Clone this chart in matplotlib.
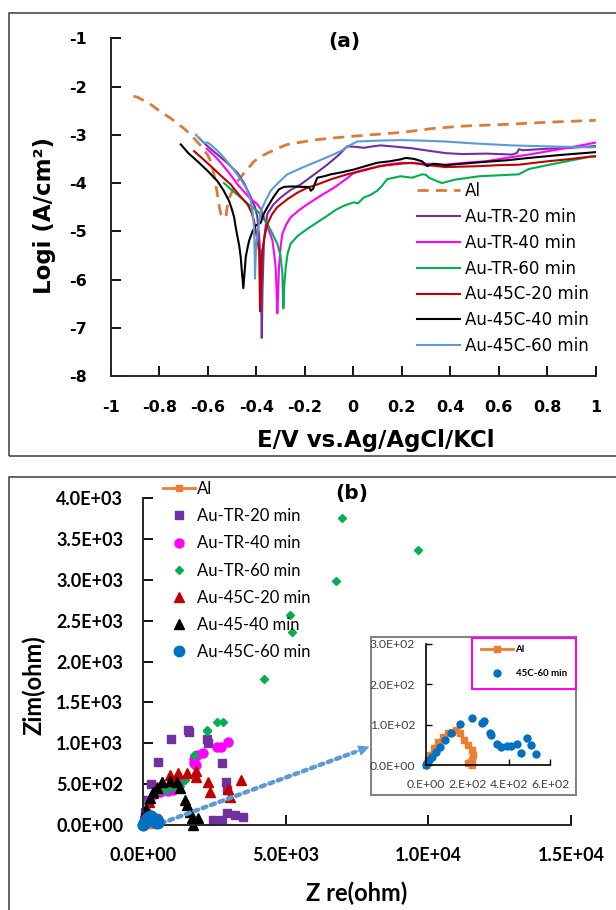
import matplotlib
matplotlib.use("Agg")
import matplotlib.pyplot as plt
from matplotlib.patches import Rectangle

plt.rcParams['font.family'] = ['Lato', 'DejaVu Sans']

W, H = 616, 910

# ---------------- (a) polarisation curves: E (V) vs log i ----------------
al_e = [-0.906, -0.89, -0.875, -0.841, -0.80, -0.752, -0.70, -0.669, -0.63, -0.60, -0.587,
        -0.575, -0.56, -0.552, -0.546, -0.535, -0.525, -0.52, -0.51, -0.498, -0.475, -0.45,
        -0.43, -0.409, -0.38, -0.354, -0.31, -0.272, -0.2, -0.148, -0.07, 0.0, 0.1, 0.2,
        0.327, 0.45, 0.55, 0.65, 0.8, 0.9, 1.0]
al_logi = [-2.20, -2.22, -2.26, -2.35, -2.50, -2.66, -2.86, -3.0, -3.22, -3.42, -3.55,
           -3.8, -4.23, -4.5, -4.64, -4.72, -4.71, -4.5, -4.3, -4.16, -3.95, -3.79,
           -3.68, -3.55, -3.45, -3.38, -3.28, -3.2, -3.14, -3.1, -3.06, -3.03, -2.99, -2.95,
           -2.87, -2.82, -2.80, -2.78, -2.74, -2.72, -2.70]

tr20_e = [-0.635, -0.60, -0.56, -0.52, -0.477, -0.45, -0.422, -0.405, -0.395, -0.388, -0.381,
          -0.379, -0.377, -0.374, -0.368, -0.36, -0.354, -0.33, -0.299, -0.26, -0.217, -0.16,
          -0.107, -0.06, -0.025, 0.01, 0.044, 0.08, 0.112, 0.16, 0.243, 0.31, 0.381, 0.45,
          0.55, 0.654, 0.675, 0.683, 0.70, 0.8, 0.9, 0.983, 1.0]
tr20_logi = [-3.07, -3.24, -3.41, -3.58, -3.79, -4.0, -4.3, -4.5, -4.71, -5.1, -5.74,
             -6.5, -7.21, -6.2, -5.19, -4.85, -4.64, -4.45, -4.3, -4.15, -4.03, -3.82,
             -3.62, -3.42, -3.24, -3.25, -3.27, -3.24, -3.22, -3.24, -3.28, -3.33, -3.38, -3.40,
             -3.39, -3.41, -3.38, -3.30, -3.32, -3.29, -3.27, -3.24, -3.23]

tr40_e = [-0.604, -0.575, -0.546, -0.51, -0.477, -0.45, -0.429, -0.395, -0.38, -0.368, -0.35,
          -0.333, -0.325, -0.32, -0.316, -0.313, -0.309, -0.306, -0.299, -0.292, -0.275, -0.258,
          -0.22, -0.189, -0.13, -0.08, -0.03, 0.003, 0.04, 0.085, 0.14, 0.195, 0.3, 0.381,
          0.46, 0.546, 0.63, 0.724, 0.85, 0.95, 1.0]
tr40_logi = [-3.29, -3.42, -3.58, -3.8, -4.03, -4.18, -4.3, -4.44, -4.55, -4.71, -4.95,
             -5.19, -5.5, -5.74, -6.2, -6.7, -6.2, -5.74, -5.3, -5.05, -4.85, -4.71,
             -4.55, -4.44, -4.25, -4.1, -3.92, -3.79, -3.73, -3.68, -3.62, -3.58, -3.6, -3.62,
             -3.58, -3.55, -3.48, -3.41, -3.3, -3.21, -3.16]

tr60_e = [-0.533, -0.50, -0.464, -0.43, -0.395, -0.375, -0.354, -0.333, -0.313, -0.30, -0.292,
          -0.288, -0.284, -0.278, -0.27, -0.258, -0.23, -0.189, -0.15, -0.107, -0.07, -0.038,
          0.003, 0.02, 0.044, 0.07, 0.099, 0.12, 0.14, 0.195, 0.243, 0.284, 0.30, 0.313,
          0.34, 0.366, 0.42, 0.519, 0.6, 0.683, 0.724, 0.8, 0.9, 0.983, 1.0]
tr60_logi = [-4.0, -4.15, -4.3, -4.45, -4.58, -4.7, -4.85, -5.05, -5.26, -5.5, -5.88,
             -6.6, -6.1, -5.74, -5.45, -5.26, -5.1, -4.95, -4.82, -4.68, -4.55, -4.47,
             -4.40, -4.42, -4.3, -4.25, -4.16, -4.05, -3.92, -3.86, -3.89, -3.82, -3.83, -3.89,
             -3.95, -4.0, -3.93, -3.86, -3.84, -3.82, -3.71, -3.63, -3.53, -3.45, -3.44]

c20_e = [-0.656, -0.62, -0.587, -0.545, -0.505, -0.47, -0.436, -0.42, -0.409, -0.398, -0.388,
         -0.386, -0.384, -0.38, -0.375, -0.365, -0.354, -0.335, -0.313, -0.27, -0.23, -0.19,
         -0.148, -0.09, -0.025, 0.058, 0.107, 0.195, 0.243, 0.31, 0.381, 0.45, 0.519, 0.6,
         0.683, 0.8, 0.9, 0.983, 1.0]
c20_logi = [-3.34, -3.5, -3.65, -3.85, -4.03, -4.25, -4.44, -4.6, -4.78, -5.1, -5.4,
            -6.0, -6.66, -6.0, -5.4, -5.1, -4.85, -4.65, -4.5, -4.33, -4.2, -4.1,
            -4.03, -3.92, -3.82, -3.72, -3.65, -3.6, -3.58, -3.63, -3.67, -3.66, -3.65, -3.63,
            -3.62, -3.55, -3.5, -3.45, -3.45]

c40_e = [-0.711, -0.68, -0.642, -0.60, -0.56, -0.535, -0.512, -0.50, -0.491, -0.485, -0.477,
         -0.47, -0.464, -0.458, -0.453, -0.448, -0.443, -0.436, -0.429, -0.415, -0.402, -0.39,
         -0.381, -0.37, -0.354, -0.33, -0.306, -0.285, -0.25, -0.21, -0.182, -0.175, -0.165,
         -0.162, -0.148, -0.12, -0.093, -0.05, 0.003, 0.05, 0.099, 0.15, 0.195, 0.217, 0.25,
         0.284, 0.305, 0.33, 0.381, 0.45, 0.546, 0.63, 0.724, 0.85, 0.95, 1.0]
c40_logi = [-3.2, -3.38, -3.55, -3.75, -3.96, -4.15, -4.37, -4.55, -4.71, -4.9, -5.12,
            -5.3, -5.53, -5.9, -6.18, -5.85, -5.53, -5.35, -5.19, -5.0, -4.88, -4.85,
            -4.82, -4.65, -4.5, -4.3, -4.13, -4.08, -4.07, -4.08, -4.08, -4.16, -4.12,
            -4.06, -3.89, -3.86, -3.82, -3.78, -3.72, -3.65, -3.58, -3.55, -3.51, -3.48, -3.5,
            -3.55, -3.65, -3.6, -3.63, -3.6, -3.56, -3.53, -3.48, -3.42, -3.38, -3.36]

c60_e = [-0.649, -0.63, -0.615, -0.6, -0.587, -0.56, -0.532, -0.50, -0.464, -0.44, -0.422,
         -0.415, -0.409, -0.406, -0.405, -0.402, -0.398, -0.39, -0.381, -0.36, -0.34, -0.31,
         -0.272, -0.21, -0.148, -0.1, -0.052, -0.015, 0.016, 0.107, 0.195, 0.28, 0.381, 0.5,
         0.654, 0.8, 0.983, 1.0]
c60_logi = [-3.0, -3.1, -3.17, -3.16, -3.21, -3.33, -3.48, -3.68, -3.92, -4.12, -4.37,
            -4.6, -4.92, -5.5, -5.98, -5.5, -5.19, -4.85, -4.58, -4.35, -4.16, -4.0,
            -3.82, -3.68, -3.55, -3.45, -3.34, -3.22, -3.14, -3.12, -3.11, -3.12, -3.14, -3.18,
            -3.22, -3.24, -3.26, -3.25]

labels_a = ["Al", "Au-TR-20 min", "Au-TR-40 min", "Au-TR-60 min",
            "Au-45C-20 min", "Au-45C-40 min", "Au-45C-60 min"]
colors_a = ["#DB7A3C", "#7030A0", "#FF00FF", "#00B050", "#C00000", "#000000", "#5B9BD5"]

# ---------------- (b) Nyquist: Z re vs Zim (ohm) ----------------
al_zre = [0, 9.6, 19, 38, 57.5, 82, 105, 125, 144, 163, 182, 201, 220, 226, 220, 201, 220]
al_zim = [0, 12.4, 25, 41, 58, 70, 78.5, 83, 87, 78.5, 62, 50, 37, 25, 12.4, 4, 0]

tr20_zre = [28, 55, 125, 260, 510, 955, 1578, 1619, 2220, 2260, 2760, 2910, 2930,
            2460, 2760, 2934, 3210, 3490]
tr20_zim = [32, 154, 300, 505, 770, 1059, 1160, 1140, 1047, 1000, 760, 530, 430,
            65, 61, 142, 120, 95]

tr40_zre = [28, 97, 208, 374, 581, 858, 1050, 1230, 1273, 1785, 1785, 1848, 1873,
            2094, 2574, 2727, 2976]
tr40_zim = [32, 154, 296, 377, 398, 418, 430, 550, 540, 763, 803, 734, 857,
            881, 958, 957, 1014]

tr60_zre = [55, 166, 374, 581, 840, 1100, 1300, 1450, 1785, 2242, 2250, 2588, 2796,
            4249, 5148, 5218, 6754, 6975, 9619]
tr60_zim = [114, 276, 377, 420, 430, 470, 480, 545, 856, 1168, 1150, 1262, 1262,
            1789, 2568, 2365, 2982, 3753, 3371]

c20_zre = [69, 95, 210, 351, 470, 645, 936, 1227, 1522, 1848, 1848, 2280, 2339,
           2981, 3041, 3416]
c20_zim = [154, 184, 285, 388, 469, 530, 612, 640, 640, 665, 591, 530, 408,
           437, 339, 551]

c40_zre = [28, 97, 235, 351, 470, 645, 936, 1171, 1287, 1462, 1522, 1638, 1697,
           1929, 1754]
c40_zim = [53, 195, 327, 408, 449, 525, 535, 525, 449, 306, 245, 163, 82,
           82, 0]

c60_zre = [0, 5.8, 13.4, 28.8, 47.9, 67.1, 90.1, 120.8, 163, 220.4, 270, 278, 312.5,
           306.7, 345, 364, 393, 412, 441, 460, 489, 508, 531]
c60_zim = [0, 5.8, 12.4, 20.7, 33.1, 45.5, 62, 78.5, 101.7, 115.7, 105, 110, 74.4,
           78.5, 52, 45.5, 47, 47, 52, 29, 68, 49.6, 26.4]

labels_b = ["Al", "Au-TR-20 min", "Au-TR-40 min", "Au-TR-60 min",
            "Au-45C-20 min", "Au-45-40 min", "Au-45C-60 min"]
colors_b = ["#ED7D31", "#7030A0", "#FF00FF", "#00B050", "#C00000", "#000000", "#0070C0"]
xticks_b = [0, 5000, 10000, 15000]
xlabels_b = ["0.0E+00", "5.0E+03", "1.0E+04", "1.5E+04"]
yticks_b = [0, 500, 1000, 1500, 2000, 2500, 3000, 3500, 4000]
ylabels_b = ["0.0E+00", "5.0E+02", "1.0E+03", "1.5E+03", "2.0E+03",
             "2.5E+03", "3.0E+03", "3.5E+03", "4.0E+03"]

fig = plt.figure(figsize=(W / 100, H / 100), dpi=100)


def box(x0, y0, x1, y1):
    # pixel rectangle measured from the top-left corner -> figure fractions
    return [x0 / W, 1 - y1 / H, (x1 - x0) / W, (y1 - y0) / H]


def fxy(x, y):
    return x / W, 1 - y / H


DJ = "DejaVu Sans"

# panel frames
fig.add_artist(Rectangle(fxy(8.6, 456), 1.2, (456 - 12.7) / H, transform=fig.transFigure,
                         fill=False, ec="#3a3a3a", lw=1.1))
fig.add_artist(Rectangle(fxy(8.6, 925), 1.2, (925 - 476.7) / H, transform=fig.transFigure,
                         fill=False, ec="#3a3a3a", lw=1.1))

# ---------- panel (a) ----------
ax1 = fig.add_axes(box(110.7, 38.3, 595.7, 376))
series_a = [(al_e, al_logi), (tr20_e, tr20_logi), (tr40_e, tr40_logi), (tr60_e, tr60_logi),
            (c20_e, c20_logi), (c40_e, c40_logi), (c60_e, c60_logi)]
for i, (e, lg) in enumerate(series_a):
    if i == 0:
        ax1.plot(e, lg, color=colors_a[i], lw=2, linestyle=(0, (4, 2.6)), label=labels_a[i])
    else:
        ax1.plot(e, lg, color=colors_a[i], lw=1.5, label=labels_a[i])

ax1.set_xlim(-1, 1)
ax1.set_ylim(-8, -1)
xt = [-1, -0.8, -0.6, -0.4, -0.2, 0, 0.2, 0.4, 0.6, 0.8, 1]
ax1.set_xticks(xt, labels=["-1", "-0.8", "-0.6", "-0.4", "-0.2", "0", "0.2", "0.4",
                           "0.6", "0.8", "1"], fontweight="bold", fontsize=11.5, family=DJ)
yt = [-8, -7, -6, -5, -4, -3, -2, -1]
ax1.set_yticks(yt, labels=[str(v) for v in yt], fontweight="bold", fontsize=11.5, family=DJ)
for s in ["top", "right"]:
    ax1.spines[s].set_visible(False)
for s in ["left", "bottom"]:
    ax1.spines[s].set_linewidth(1.4)
    ax1.spines[s].set_color("#262626")
ax1.tick_params(axis="y", direction="in", length=7, width=1.3, pad=17)
ax1.tick_params(axis="x", direction="in", length=7, width=1.3, pad=17)
ax1.legend(loc="upper left", bbox_to_anchor=fxy(416.7, 182), bbox_transform=fig.transFigure,
           frameon=False, borderpad=0, borderaxespad=0, handlelength=2.6,
           handletextpad=0.3, labelspacing=0.47, prop={"family": DJ, "size": 12})

fig.text(*fxy(344, 42), "(a)", fontsize=14.5, fontweight="bold", family=DJ,
         ha="center", va="center")
fig.text(*fxy(376, 440), "E/V vs.Ag/AgCl/KCl", fontsize=16.5, fontweight="bold", family=DJ,
         ha="center", va="center")
fig.text(*fxy(45, 215), "Logi (A/cm²)", fontsize=16.5, fontweight="bold", family=DJ,
         ha="center", va="center", rotation=90)

# ---------- panel (b) ----------
ax2 = fig.add_axes(box(143.3, 498.3, 571, 825))
ax2.plot(al_zre, al_zim, color=colors_b[0], marker="s", ms=5, lw=2, label=labels_b[0],
         clip_on=False, zorder=4)
ax2.plot(tr20_zre, tr20_zim, color=colors_b[1], marker="s", ms=6, ls="none",
         label=labels_b[1], clip_on=False)
ax2.plot(tr40_zre, tr40_zim, color=colors_b[2], marker="o", ms=6.5, ls="none",
         label=labels_b[2], clip_on=False)
ax2.plot(tr60_zre, tr60_zim, color=colors_b[3], marker="D", ms=4.5, ls="none",
         label=labels_b[3], clip_on=False)
ax2.plot(c20_zre, c20_zim, color=colors_b[4], marker="^", ms=6.5, ls="none",
         label=labels_b[4], clip_on=False)
ax2.plot(c40_zre, c40_zim, color=colors_b[5], marker="^", ms=6.5, ls="none",
         label=labels_b[5], clip_on=False)
ax2.plot(c60_zre, c60_zim, color=colors_b[6], marker="o", ms=7.5, ls="none",
         label=labels_b[6], clip_on=False, zorder=5)

ax2.set_xlim(0, 15000)
ax2.set_ylim(0, 4000)
ax2.set_xticks(xticks_b, labels=xlabels_b, fontweight="bold", fontsize=13)
ax2.set_yticks(yticks_b, labels=ylabels_b, fontweight="bold", fontsize=13)
for s in ["top", "right"]:
    ax2.spines[s].set_visible(False)
for s in ["left", "bottom"]:
    ax2.spines[s].set_linewidth(1.4)
    ax2.spines[s].set_color("#262626")
ax2.tick_params(axis="y", direction="in", length=7, width=1.3, pad=14.5)
ax2.tick_params(axis="x", direction="in", length=7, width=1.3, pad=16)
ax2.legend(loc="upper left", bbox_to_anchor=fxy(163, 481), bbox_transform=fig.transFigure,
           frameon=False, borderpad=0, borderaxespad=0, handlelength=1.9,
           handletextpad=0.15, labelspacing=0.67, numpoints=1, prop={"size": 12})

# dotted pointer towards the zoomed inset, with a solid head
arrow_from = (620, 20)
arrow_to = (7930, 958)
head_from = (arrow_from[0] + 0.93 * (arrow_to[0] - arrow_from[0]),
             arrow_from[1] + 0.93 * (arrow_to[1] - arrow_from[1]))
ax2.annotate("", xy=head_from, xytext=arrow_from,
             arrowprops=dict(arrowstyle="-", color="#5B9BD5", lw=3.2, ls=(0, (0.9, 1.1)),
                             shrinkA=0, shrinkB=0))
ax2.annotate("", xy=arrow_to, xytext=head_from,
             arrowprops=dict(arrowstyle="-|>", color="#5B9BD5", lw=1,
                             mutation_scale=16, shrinkA=0, shrinkB=0))

fig.text(*fxy(351.7, 493.3), "(b)", fontsize=14.5, fontweight="bold", family=DJ,
         ha="center", va="center")
fig.text(*fxy(356.6, 893), "Z re(ohm)", fontsize=17, fontweight="bold",
         ha="center", va="center")
fig.text(*fxy(33.4, 685), "Zim(ohm)", fontsize=17, fontweight="bold",
         ha="center", va="center", rotation=90)

# ---------- inset ----------
fig.add_artist(Rectangle(fxy(371.3, 795), (576.4 - 371.3) / W, (795 - 636.7) / H,
                         transform=fig.transFigure, fc="white", ec="#7f7f7f", lw=1.4,
                         zorder=3))
ax3 = fig.add_axes(box(426.3, 644, 550, 765), zorder=4)
ax3.patch.set_alpha(0)
ax3.plot(al_zre, al_zim, color=colors_b[0], marker="s", ms=4, lw=2, label="Al", clip_on=False)
ax3.plot(c60_zre, c60_zim, color=colors_b[6], marker="o", ms=5, ls="none",
         label="45C-60 min", clip_on=False)
ax3.set_xlim(0, 600)
ax3.set_ylim(0, 300)
ax3.set_xticks([0, 200, 400, 600], labels=["0.E+00", "2.E+02", "4.E+02", "6.E+02"],
               fontsize=8.8, color="#404040")
ax3.set_yticks([0, 100, 200, 300], labels=["0.0E+00", "1.0E+02", "2.0E+02", "3.0E+02"],
               fontsize=8.8, color="#404040")
for s in ["top", "right"]:
    ax3.spines[s].set_visible(False)
for s in ["left", "bottom"]:
    ax3.spines[s].set_linewidth(1.2)
ax3.tick_params(direction="in", length=4, width=1)
ax3.tick_params(axis="y", pad=8)
ax3.tick_params(axis="x", pad=10)
fig.add_artist(Rectangle(fxy(472.3, 689.3), (575.6 - 472.3) / W, (689.3 - 638.3) / H,
                         transform=fig.transFigure, fill=False, ec="#FF00FF", lw=1.5,
                         zorder=6))
ax3.legend(loc="upper left", bbox_to_anchor=fxy(481, 645), bbox_transform=fig.transFigure,
           frameon=False, borderpad=0, borderaxespad=0, handlelength=3.3,
           handletextpad=0.25, labelspacing=1.55, numpoints=1,
           prop={"size": 7, "weight": "bold"})

fig.savefig("out.png", dpi=100)
